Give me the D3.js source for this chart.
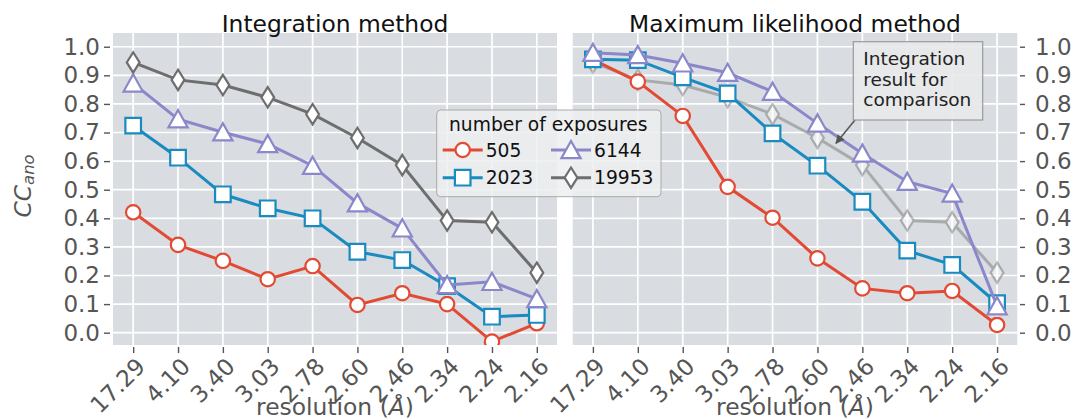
<!DOCTYPE html>
<html>
<head>
<meta charset="utf-8">
<script src="https://cdn.jsdelivr.net/npm/d3@7"></script>
<style>
  body { margin: 0; background: #fff; }
  svg { font-family: "DejaVu Sans", sans-serif; }
</style>
</head>
<body>
<script>
const resolutions = ['17.29', '4.10', '3.40', '3.03', '2.78', '2.60', '2.46', '2.34', '2.24', '2.16']
const y_ticks = [0.0, 0.1, 0.2, 0.3, 0.4, 0.5, 0.6, 0.7, 0.8, 0.9, 1.0]
const exposures = ['505', '2023', '6144', '19953']

// integration method
const int_505 = [0.421, 0.307, 0.251, 0.187, 0.233, 0.097, 0.138, 0.100, -0.031, 0.033]
const int_2023 = [0.724, 0.612, 0.484, 0.435, 0.400, 0.283, 0.254, 0.163, 0.056, 0.062]
const int_6144 = [0.872, 0.747, 0.701, 0.660, 0.584, 0.453, 0.365, 0.167, 0.178, 0.118]
const int_19953 = [0.945, 0.884, 0.866, 0.823, 0.764, 0.681, 0.586, 0.392, 0.386, 0.210]

// maximum likelihood method
const ml_505 = [0.955, 0.878, 0.758, 0.510, 0.402, 0.260, 0.155, 0.138, 0.146, 0.027]
const ml_2023 = [0.956, 0.953, 0.893, 0.837, 0.697, 0.584, 0.458, 0.287, 0.237, 0.103]
const ml_6144 = [0.979, 0.971, 0.942, 0.909, 0.843, 0.732, 0.627, 0.528, 0.487, 0.093]

const colors = { '505': '#e24a33', '2023': '#1a8bc0', '6144': '#8a87cb', '19953': '#6e6e6e' }
const shapes = { '505': 'circle', '2023': 'square', '6144': 'triangle', '19953': 'diamond' }

const width = 1073, height = 420
const plot_top = 33, plot_bottom = 345
const panels = [
  { title: 'Integration method', left: 113, right: 557,
    series: [['505', int_505, 1], ['2023', int_2023, 1], ['6144', int_6144, 1], ['19953', int_19953, 1]] },
  { title: 'Maximum likelihood method', left: 572.7, right: 1017.3,
    series: [['19953', int_19953, 0.45], ['505', ml_505, 1], ['2023', ml_2023, 1], ['6144', ml_6144, 1]] }
]

const y = d3.scaleLinear().domain([-0.043, 1.048]).range([plot_bottom, plot_top])

const svg = d3.select('body').append('svg')
  .attr('width', width).attr('height', height)

function markerPath(shape) {
  if (shape === 'circle') return d3.arc()({ innerRadius: 0, outerRadius: 7.2, startAngle: 0, endAngle: 2 * Math.PI })
  if (shape === 'square') return 'M-7.8,-7.8H7.8V7.8H-7.8Z'
  if (shape === 'triangle') return 'M0,-9L9.6,8.2H-9.6Z'
  return 'M0,-10.2L6.4,0L0,10.2L-6.4,0Z'
}

panels.forEach((p, pi) => {
  const x = d3.scaleLinear().domain([-0.45, resolutions.length - 1 + 0.45]).range([p.left, p.right])
  const g = svg.append('g')

  g.append('rect')
    .attr('x', p.left).attr('y', plot_top)
    .attr('width', p.right - p.left).attr('height', plot_bottom - plot_top)
    .attr('fill', '#d9dce0')

  // grid
  g.selectAll('line.hgrid').data(y_ticks).enter().append('line')
    .attr('class', 'hgrid')
    .attr('x1', p.left).attr('x2', p.right)
    .attr('y1', d => y(d)).attr('y2', d => y(d))
    .attr('stroke', '#fff').attr('stroke-width', 1.7)
  g.selectAll('line.vgrid').data(resolutions).enter().append('line')
    .attr('class', 'vgrid')
    .attr('x1', (d, i) => x(i)).attr('x2', (d, i) => x(i))
    .attr('y1', plot_top).attr('y2', plot_bottom)
    .attr('stroke', '#fff').attr('stroke-width', 1.7)

  // y axis
  const yAxis = pi === 0
    ? d3.axisLeft(y).tickValues(y_ticks).tickFormat(d3.format('.1f')).tickSize(6).tickPadding(4)
    : d3.axisRight(y).tickValues(y_ticks).tickFormat(d3.format('.1f')).tickSize(5).tickPadding(10)
  const ya = g.append('g')
    .attr('transform', pi === 0 ? `translate(${p.left - 3},0)` : `translate(${p.right + 2.7},0)`)
    .call(yAxis)
  ya.select('.domain').remove()
  ya.selectAll('line').attr('stroke', '#555').attr('stroke-width', 1.4)
  ya.selectAll('text').attr('fill', '#555').attr('font-size', 23).attr('font-family', 'DejaVu Sans')

  // x axis
  const xa = g.append('g')
    .attr('transform', `translate(0,${plot_bottom + 2})`)
    .call(d3.axisBottom(x).tickValues(d3.range(resolutions.length)).tickSize(6).tickFormat(i => resolutions[i]))
  xa.select('.domain').remove()
  xa.selectAll('line').attr('stroke', '#555').attr('stroke-width', 1.4)
  xa.selectAll('text')
    .attr('fill', '#555').attr('font-size', 23).attr('font-family', 'DejaVu Sans')
    .attr('text-anchor', 'end').attr('dy', null).attr('y', null)
    .attr('transform', 'translate(13,21) rotate(-45)')

  // titles
  g.append('text')
    .attr('x', (p.left + p.right) / 2).attr('y', 32)
    .attr('text-anchor', 'middle').attr('font-size', 23.4).attr('fill', '#111')
    .text(p.title)
  const xl = g.append('text')
    .attr('x', (p.left + p.right) / 2).attr('y', 415)
    .attr('text-anchor', 'middle').attr('font-size', 23.4).attr('fill', '#555')
  xl.append('tspan').text('resolution (')
  xl.append('tspan').attr('font-style', 'italic').text('Å')
  xl.append('tspan').text(')')

  // series
  const clipId = 'clip' + pi
  svg.append('clipPath').attr('id', clipId).append('rect')
    .attr('x', p.left).attr('y', plot_top)
    .attr('width', p.right - p.left).attr('height', plot_bottom - plot_top)
  const plot = g.append('g').attr('clip-path', `url(#${clipId})`)
  const line = d3.line().x((d, i) => x(i)).y(d => y(d))

  p.series.forEach(([name, values, alpha]) => {
    const sg = plot.append('g').attr('opacity', alpha)
    sg.append('path')
      .datum(values)
      .attr('d', line)
      .attr('fill', 'none')
      .attr('stroke', colors[name])
      .attr('stroke-width', 3)
    sg.selectAll('path.marker').data(values).enter().append('path')
      .attr('class', 'marker')
      .attr('d', markerPath(shapes[name]))
      .attr('transform', (d, i) => `translate(${x(i)},${y(d)})`)
      .attr('fill', '#fff')
      .attr('stroke', colors[name])
      .attr('stroke-width', 2.2)
  })
})

// y label
const yl = svg.append('text')
  .attr('transform', 'translate(31,186) rotate(-90)')
  .attr('text-anchor', 'middle').attr('font-size', 23.4).attr('fill', '#555')
  .attr('font-style', 'italic')
yl.append('tspan').text('CC')
yl.append('tspan').attr('font-size', 16.4).attr('dy', 3).text('ano')

// legend
const lg = svg.append('g')
lg.append('rect')
  .attr('x', 436.7).attr('y', 110).attr('width', 224.3).attr('height', 86.7)
  .attr('rx', 4).attr('fill', '#eceef0').attr('fill-opacity', 0.85)
  .attr('stroke', '#aaa').attr('stroke-width', 1)
lg.append('text')
  .attr('x', 449).attr('y', 131).attr('font-size', 18.7).attr('fill', '#111')
  .text('number of exposures')
const legendPos = [[462.7, 150], [462.7, 177.7], [571, 150], [571, 177.7]]
exposures.forEach((name, i) => {
  const [cx, cy] = legendPos[i]
  lg.append('line')
    .attr('x1', cx - 20).attr('x2', cx + 20).attr('y1', cy).attr('y2', cy)
    .attr('stroke', colors[name]).attr('stroke-width', 3)
  lg.append('path')
    .attr('d', markerPath(shapes[name]))
    .attr('transform', `translate(${cx},${cy})`)
    .attr('fill', '#fff').attr('stroke', colors[name]).attr('stroke-width', 2.2)
  lg.append('text')
    .attr('x', cx + 23).attr('y', cy).attr('dy', '0.36em')
    .attr('font-size', 18.7).attr('fill', '#111')
    .text(name)
})

// annotation
const ann = svg.append('g')
svg.append('defs').append('marker')
  .attr('id', 'arrow').attr('viewBox', '0 0 10 10')
  .attr('refX', 9).attr('refY', 5)
  .attr('markerWidth', 11).attr('markerHeight', 9).attr('markerUnits', 'userSpaceOnUse')
  .attr('orient', 'auto')
  .append('path').attr('d', 'M0,0L10,5L0,10Z').attr('fill', '#555')
ann.append('line')
  .attr('x1', 855).attr('y1', 120).attr('x2', 836).attr('y2', 143.3)
  .attr('stroke', '#555').attr('stroke-width', 1.5)
  .attr('marker-end', 'url(#arrow)')
ann.append('rect')
  .attr('x', 853.3).attr('y', 41.7).attr('width', 129.4).attr('height', 78.3)
  .attr('fill', '#e8e9eb').attr('fill-opacity', 0.9)
  .attr('stroke', '#999').attr('stroke-width', 1.2)
const annText = ['Integration', 'result for', 'comparison']
ann.selectAll('text').data(annText).enter().append('text')
  .attr('x', 863.3).attr('y', (d, i) => 65 + i * 20.7)
  .attr('font-size', 18.5).attr('fill', '#222')
  .text(d => d)
</script>
</body>
</html>
